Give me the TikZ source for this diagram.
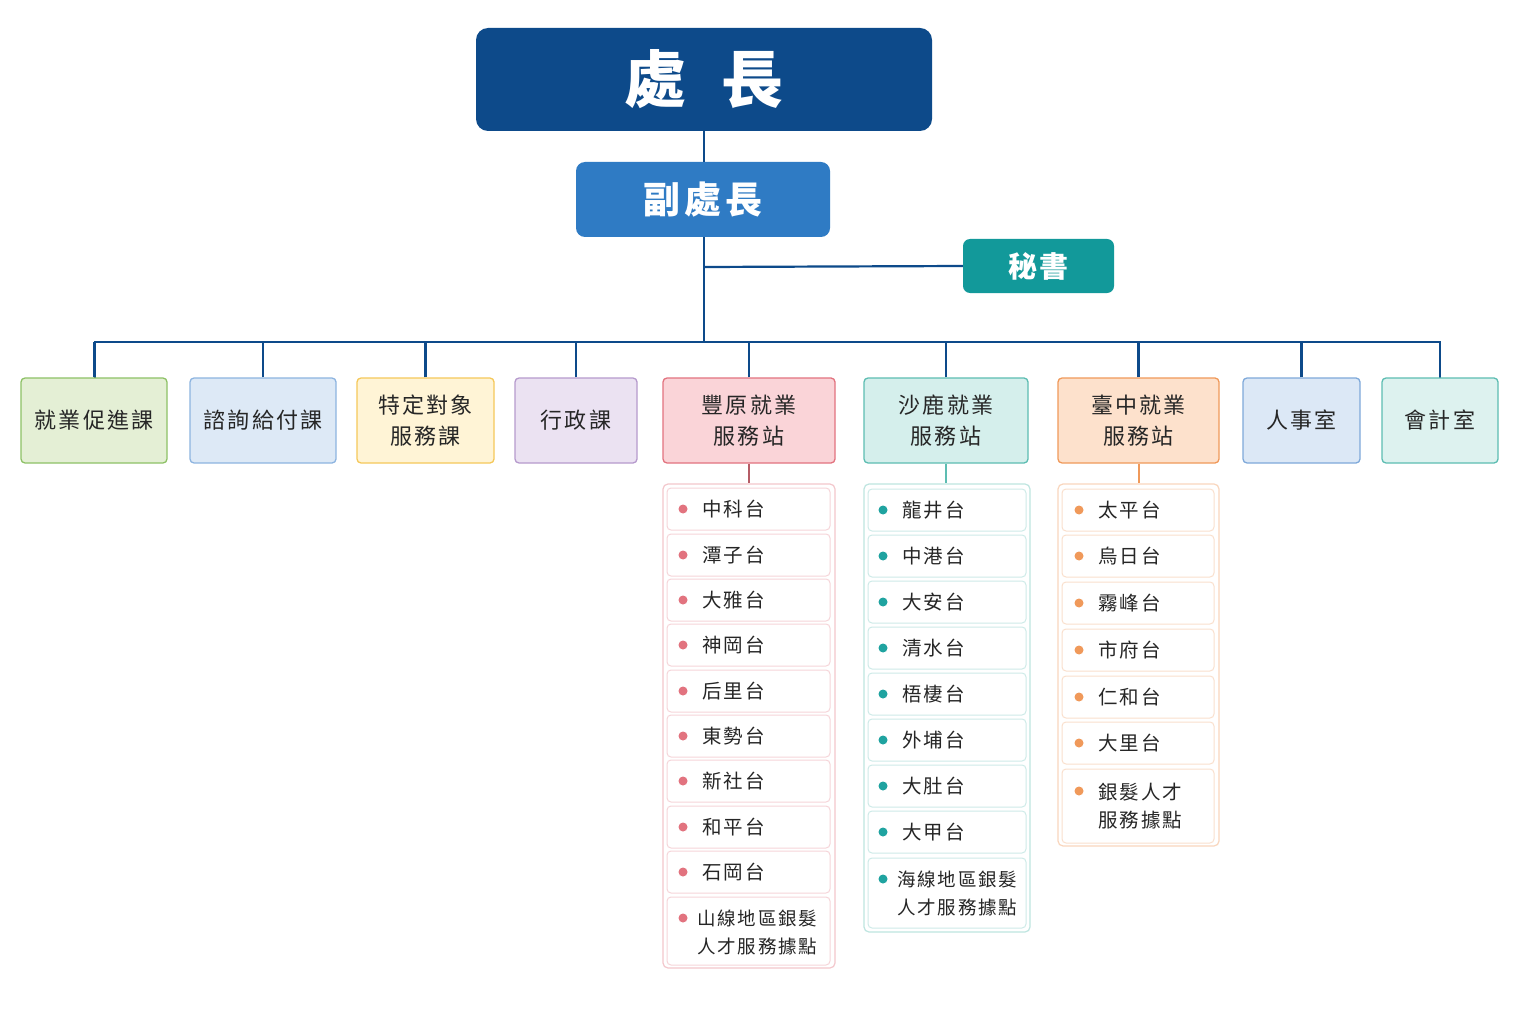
\documentclass[tikz,border=0pt]{standalone}
\usepackage{fontspec}
\setmainfont{Noto Sans CJK TC}[LetterSpace=10]
\begin{document}
\begin{tikzpicture}[x=1pt,y=-1pt,
  line/.style={draw=c0,line width=2.2pt},
  top/.style={rounded corners=12pt,inner sep=0pt,font=\bfseries,text=white},
  dept/.style={rounded corners=4pt,line width=1.3pt,inner sep=0pt,align=center,font=\fontsize{22}{31}\selectfont,text=black!85},
  cont/.style={rounded corners=5pt,line width=1.2pt,fill=white},
  item/.style={rounded corners=4pt,line width=1pt,fill=white},
  txt/.style={anchor=west,font=\fontsize{19.5}{28}\selectfont,align=left,text=black!85,inner sep=0pt}]
\definecolor{c0}{HTML}{0D4A8A}
\definecolor{gA}{HTML}{E4EFD5}\definecolor{gB}{HTML}{8DC166}
\definecolor{bA}{HTML}{DDE9F6}\definecolor{bB}{HTML}{8DB4E0}
\definecolor{yA}{HTML}{FFF4D6}\definecolor{yB}{HTML}{F5C85A}
\definecolor{pA}{HTML}{EBE2F2}\definecolor{pB}{HTML}{B69ACD}
\definecolor{rA}{HTML}{FAD4D8}\definecolor{rB}{HTML}{E2737F}
\definecolor{tA}{HTML}{D5EFEC}\definecolor{tB}{HTML}{1FA3A0}
\definecolor{oA}{HTML}{FDE1CC}\definecolor{oB}{HTML}{F0995A}
\definecolor{sA}{HTML}{DCE8F6}\definecolor{sB}{HTML}{7FA9DA}
\definecolor{mA}{HTML}{DDF2EF}\definecolor{mB}{HTML}{5DBDB2}
\definecolor{dB}{HTML}{2F7BC4}\definecolor{sT}{HTML}{12999A}
\useasboundingbox (0,0) rectangle (1536,1024);
\fill[white] (0,0) rectangle (1536,1024);
% top
\node[top,fill=c0,minimum width=456pt,minimum height=103pt,font=\bfseries\fontsize{62}{66}\selectfont] (chief) at (704,79.5) {處\hspace{0.55em}長};
\node[top,fill=dB,minimum width=254pt,minimum height=75pt,rounded corners=9pt,font=\bfseries\fontsize{37}{40}\selectfont] (dep) at (703,199.5) {副處長};
\node[top,fill=sT,minimum width=151pt,minimum height=54pt,rounded corners=7pt,font=\bfseries\fontsize{29}{34}\selectfont] (sec) at (1038.5,266) {秘書};
\coordinate (j) at (704,267);
\coordinate (b) at (704,342);
\draw[line] (chief.south -| j) -- (dep.north -| j);
\draw[line] (dep.south -| j) -- (b);
\draw[line] (j) -- (sec.west);
\draw[line] (95,378) -- (95,342) -- (1440,342) -- (1440,378);
% depts
\foreach \n/\xa/\xb/\fa/\fb/\t in {
 d1/21/167/gA/gB/就業促進課, d2/190/336/bA/bB/諮詢給付課, d3/357/494/yA/yB/{特定對象\\服務課},
 d4/515/637/pA/pB/行政課, d5/663/835/rA/rB/{豐原就業\\服務站}, d6/864/1028/tA/mB/{沙鹿就業\\服務站},
 d7/1058/1219/oA/oB/{臺中就業\\服務站}, d8/1243/1360/sA/sB/人事室, d9/1382/1498/mA/mB/會計室}{
 \node[dept,fill=\fa,draw=\fb,minimum width={\xb-\xa},minimum height=85pt] (\n) at ({(\xa+\xb)/2},420.5) {\t};
 \draw[line] (\n.north) -- (\n.north |- b);
}
% lists
\node[cont,draw=rB!40,minimum width=172pt,minimum height=484pt,inner sep=0pt] (c5) at (749,726) {};
\node[cont,draw=mB!40,minimum width=166pt,minimum height=448pt,inner sep=0pt] (c6) at (947,708) {};
\node[cont,draw=oB!40,minimum width=161pt,minimum height=362pt,inner sep=0pt] (c7) at (1138.5,665) {};
\draw[draw=rB!80!black,line width=2pt] (d5.south) -- (c5.north);
\draw[draw=mB,line width=2pt] (d6.south) -- (d6.south |- c6.north);
\draw[draw=oB,line width=2pt] (d7.south) -- (c7.north);
\foreach \y/\t [count=\i] in {509/中科台,555/潭子台,600/大雅台,645/神岡台,691/后里台,736/東勢台,781/新社台,827/和平台,872/石岡台}{
 \node[item,draw=rB!30,minimum width=163pt,minimum height=42pt] (r\i) at (748.5,\y) {};
 \fill[rB] (683,\y) circle (4.5pt);
 \node[txt] (rt\i) at (702,\y) {\t};
}
\node[item,draw=rB!30,minimum width=163pt,minimum height=68pt] (r10) at (748.5,931) {};
\fill[rB] (683,918) circle (4.5pt);
\node[txt,anchor=north west,font=\fontsize{18.5}{28}\selectfont] (rt10) at (697,910) {山線地區銀髮\\人才服務據點};
\foreach \y/\t [count=\i] in {510/龍井台,556/中港台,602/大安台,648/清水台,694/梧棲台,740/外埔台,786/大肚台,832/大甲台}{
 \node[item,draw=mB!30,minimum width=158pt,minimum height=42pt] (s\i) at (947,\y) {};
 \fill[tB] (883,\y) circle (4.5pt);
 \node[txt] (st\i) at (902,\y) {\t};
}
\node[item,draw=mB!30,minimum width=158pt,minimum height=70pt] (s9) at (947,893) {};
\fill[tB] (883,879) circle (4.5pt);
\node[txt,anchor=north west,font=\fontsize{18.5}{28}\selectfont] (st9) at (897,871) {海線地區銀髮\\人才服務據點};
\foreach \y/\t [count=\i] in {510/太平台,556/烏日台,603/霧峰台,650/市府台,697/仁和台,743/大里台}{
 \node[item,draw=oB!30,minimum width=152pt,minimum height=42pt] (o\i) at (1138,\y) {};
 \fill[oB] (1079,\y) circle (4.5pt);
 \node[txt] (ot\i) at (1098,\y) {\t};
}
\node[item,draw=oB!30,minimum width=152pt,minimum height=74pt] (o7) at (1138,806) {};
\fill[oB] (1079,791) circle (4.5pt);
\node[txt,anchor=north west] (ot7) at (1098,783) {銀髮人才\\服務據點};
\end{tikzpicture}
\end{document}
